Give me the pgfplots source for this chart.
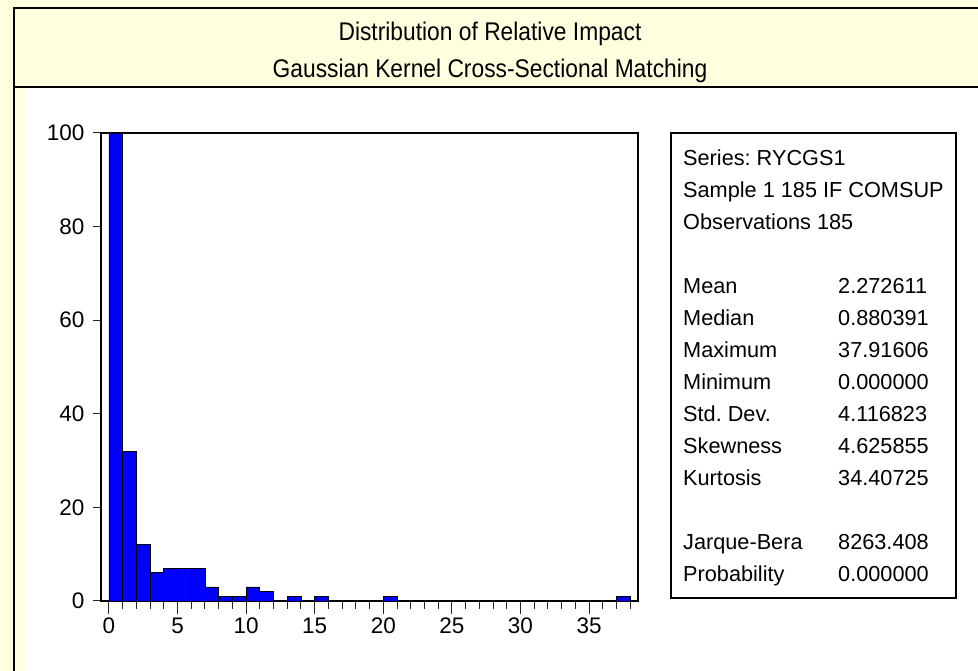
\documentclass[border=0pt]{standalone}
\usepackage{fontspec}
\setmainfont{Liberation Sans}
\usepackage{pgfplots}
\pgfplotsset{compat=1.18}
\definecolor{bgyellow}{HTML}{FFFFE0}
\frenchspacing
\begin{document}
\begin{tikzpicture}[x=1pt,y=1pt]
\useasboundingbox (0,0) rectangle (978,671);
\fill[bgyellow] (0,0) rectangle (978,671);
\fill[white] (25,0) rectangle (978,583);
\draw[line width=2.5pt] (14,0) -- (14,663) -- (978,663);
\draw[line width=2.5pt] (14,584) -- (978,584);
\node[anchor=base, font=\fontsize{22.8}{27}\selectfont, inner sep=0pt, yscale=1.12] at (490,630) {Distribution of Relative Impact};
\node[anchor=base, font=\fontsize{22.8}{27}\selectfont, inner sep=0pt, yscale=1.12] at (490,593) {Gaussian Kernel Cross-Sectional Matching};
\begin{axis}[
  at={(101pt,70pt)}, anchor=south west,
  scale only axis, width=537pt, height=468pt,
  xmin=-0.58, xmax=38.57, ymin=0, ymax=100,
  axis line style={line width=2.2pt},
  tick align=outside, tick pos=left,
  xtick={0,5,...,35}, minor xtick={0,1,...,38},
  ytick={0,20,...,100},
  major tick length=13pt, minor tick length=8pt,
  ytick style={/pgfplots/major tick length=8pt},
  tick style={line width=1pt, black!85},
  tick label style={font=\fontsize{22.5}{26}\selectfont},
  /pgf/number format/assume math mode=true,
]
\addplot[ybar, bar width=1, bar shift=0, fill=blue, draw=black, line width=0.9pt]
 coordinates {(0.5,100) (1.5,32) (2.5,12) (3.5,6) (4.5,7) (5.5,7) (6.5,7) (7.5,3) (8.5,1) (9.5,1) (10.5,3) (11.5,2) (13.5,1) (15.5,1) (20.5,1) (37.5,1)};
\end{axis}
\draw[line width=1.3pt] (671,538) rectangle (956,73);
\begin{scope}[every node/.style={anchor=base west, inner sep=0pt, font=\fontsize{21.7}{25}\selectfont}]
\node at (683,505) {Series: RYCGS1};
\node at (683,473) {Sample 1 185 IF COMSUP};
\node at (683,441) {Observations 185};
\node at (683,377.5) {Mean};        \node at (838,377.5) {2.272611};
\node at (683,345.5) {Median};      \node at (838,345.5) {0.880391};
\node at (683,313.5) {Maximum};     \node at (838,313.5) {37.91606};
\node at (683,281.5) {Minimum};     \node at (838,281.5) {0.000000};
\node at (683,249.5) {Std. Dev.};   \node at (838,249.5) {4.116823};
\node at (683,217.5) {Skewness};    \node at (838,217.5) {4.625855};
\node at (683,185.5) {Kurtosis};    \node at (838,185.5) {34.40725};
\node at (683,121.5) {Jarque-Bera}; \node at (838,121.5) {8263.408};
\node at (683,89.5) {Probability};  \node at (838,89.5) {0.000000};
\end{scope}
\end{tikzpicture}
\end{document}
